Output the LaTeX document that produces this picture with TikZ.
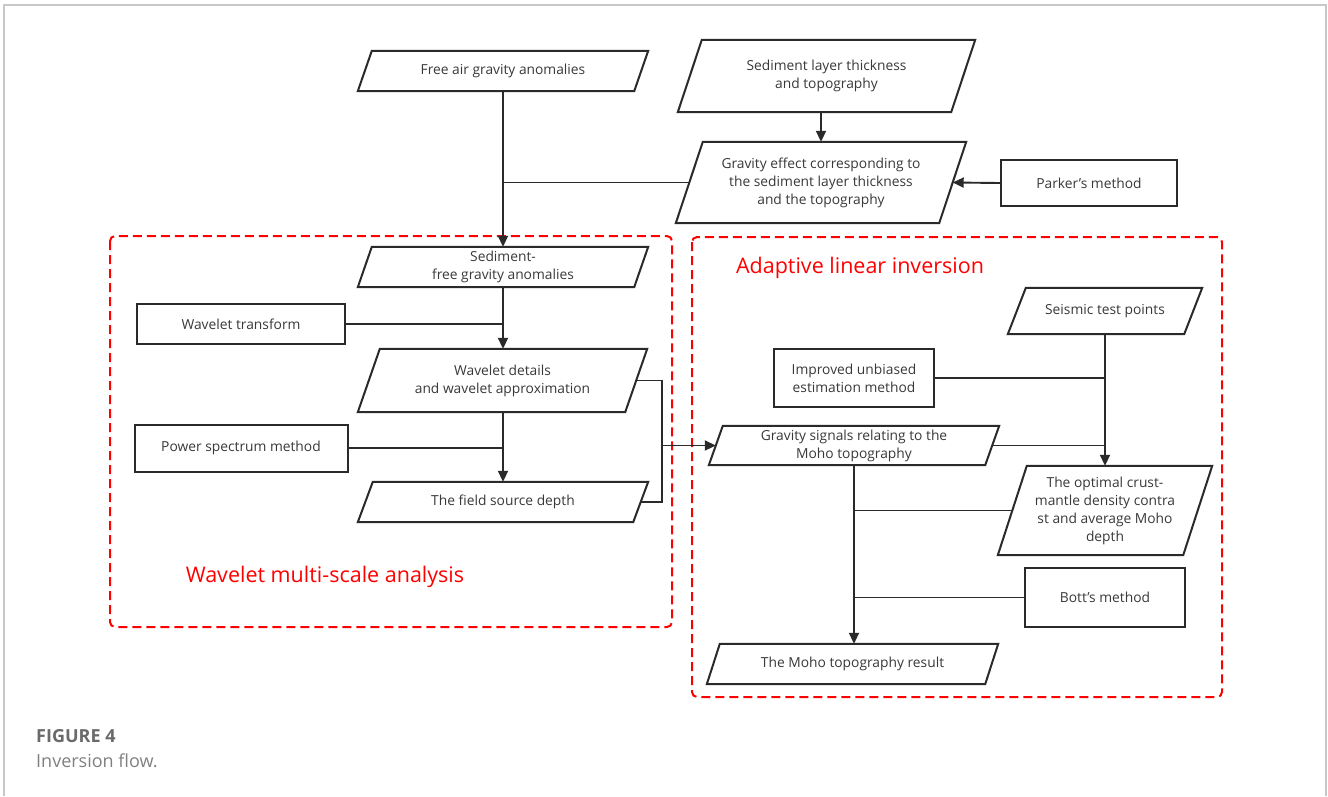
\documentclass[tikz,border=0pt]{standalone}
\usepackage{fontspec}
\setmainfont{Open Sans}
\usetikzlibrary{arrows.meta,calc}
\definecolor{ink}{HTML}{2A2A2A}
\definecolor{txt}{HTML}{383838}
\definecolor{framegray}{HTML}{C8C8C8}
\definecolor{capgray}{HTML}{6A6A6A}
\definecolor{capgray2}{HTML}{808080}
\tikzset{
 base/.style={draw=none, inner sep=2pt, align=center, text=txt, font=\fontsize{13.8}{18}\selectfont},
 rbox/.style={base, draw=ink, line width=2pt},
 conn/.style={draw=ink, line width=1.9pt},
 arr/.style={conn, -{Triangle[length=11pt,width=10pt]}},
 group/.style={draw=red, line width=2pt, dash pattern=on 9pt off 5pt, rounded corners=5pt},
 grouplabel/.style={text=red, inner sep=0pt, font=\fontsize{21.5}{26}\selectfont},
}
\newcommand{\paraframe}[2]{\draw[ink, line width=2pt, line join=miter] ([xshift=#2pt]#1.north west) -- (#1.north east) -- ([xshift=-#2pt]#1.south east) -- (#1.south west) -- cycle;}
\begin{document}
\begin{tikzpicture}[x=1pt,y=-1pt]
\useasboundingbox (0,0) rectangle (1328,796);
\draw[framegray, line width=1.5pt] (4,796) -- (4,5) -- (1326,5) -- (1326,796);

% group boxes
\draw[group] (110,236) rectangle (672,627);
\draw[group] (692,237) rectangle (1222,697);
\node[grouplabel] (lblA) at (860,268) {Adaptive linear inversion};
\node[grouplabel] (lblW) at (325,577) {Wavelet multi-scale analysis};

% nodes
\node[base, minimum width=290pt, minimum height=40pt] (fa) at (503,71) {Free air gravity anomalies};
\paraframe{fa}{14}
\node[base, minimum width=297pt, minimum height=72pt] (st) at (826.5,76) {Sediment layer thickness\\and topography};
\paraframe{st}{24}
\node[base, minimum width=290pt, minimum height=81pt] (ge) at (821,182.5) {Gravity effect corresponding to\\the sediment layer thickness\\and the topography};
\paraframe{ge}{27}
\node[rbox, minimum width=176pt, minimum height=46pt] (pk) at (1089,183) {Parker's method};
\node[base, minimum width=290pt, minimum height=40pt] (sf) at (503,267) {Sediment-\\free gravity anomalies};
\paraframe{sf}{14}
\node[rbox, minimum width=208pt, minimum height=40pt] (wt) at (241,324) {Wavelet transform};
\node[base, minimum width=289pt, minimum height=63pt] (wd) at (502.5,380.5) {Wavelet details\\and wavelet approximation};
\paraframe{wd}{22}
\node[rbox, minimum width=213pt, minimum height=47pt] (ps) at (241,448) {Power spectrum method};
\node[base, minimum width=290pt, minimum height=40pt] (fs) at (503,502) {The field source depth};
\paraframe{fs}{15}
\node[base, minimum width=290pt, minimum height=39pt] (gs) at (854,445.5) {Gravity signals relating to the\\Moho topography};
\paraframe{gs}{14}
\node[base, minimum width=194pt, minimum height=46pt] (se) at (1105,311) {Seismic test points};
\paraframe{se}{18}
\node[rbox, minimum width=160pt, minimum height=58pt] (iu) at (854,378) {Improved unbiased\\estimation method};
\node[base, minimum width=214pt, minimum height=89pt] (op) at (1105,510.5) {The optimal crust-\\mantle density contra\\st and average Moho\\depth};
\paraframe{op}{29}
\node[rbox, minimum width=160pt, minimum height=59pt] (bm) at (1105,597.5) {Bott's method};
\node[base, minimum width=291pt, minimum height=40pt] (mr) at (852.5,664) {The Moho topography result};
\paraframe{mr}{13}

% connectors
\draw[arr] (fa.south) -- (sf.north);
\draw[conn] ([xshift=13.5pt]ge.west) -- (fa.south |- ge.west);
\draw[arr] (st.south -| ge.north) -- (ge.north);
\draw[arr] (pk.west) -- ([xshift=-13.5pt]ge.east);
\draw[conn] (wt.east) -- (sf.south |- wt.east);
\draw[arr] (sf.south) -- (sf.south |- wd.north);
\draw[conn] (ps.east) -- (sf.south |- ps.east);
\draw[arr] (sf.south |- wd.south) -- (sf.south |- fs.north);
\coordinate (brx) at (662,445);
\draw[conn] ([xshift=-11pt]wd.east) -- (brx |- wd.east) -- (brx |- fs.east) -- ([xshift=-7.5pt]fs.east);
\draw[arr] (brx |- gs.west) -- ([xshift=7pt]gs.west);
\draw[arr] (se.south) -- (op.north);
\draw[conn] (iu.east) -- (se.south |- iu.east);
\draw[conn] ([xshift=-7pt]gs.east) -- (se.south |- gs.east);
\draw[arr] (gs.south) -- (gs.south |- mr.north);
\draw[conn] ([xshift=14.5pt]op.west) -- (gs.south |- op.west);
\draw[conn] (bm.west) -- (gs.south |- bm.west);

% caption
\node[anchor=west, inner sep=0pt, text=capgray, font=\fontsize{18}{22}\selectfont\bfseries] (cap1) at (36,736) {FIGURE 4};
\node[anchor=west, inner sep=0pt, text=capgray2, font=\fontsize{18}{22}\selectfont] (cap2) at (36,761) {Inversion flow.};
\end{tikzpicture}
\end{document}
